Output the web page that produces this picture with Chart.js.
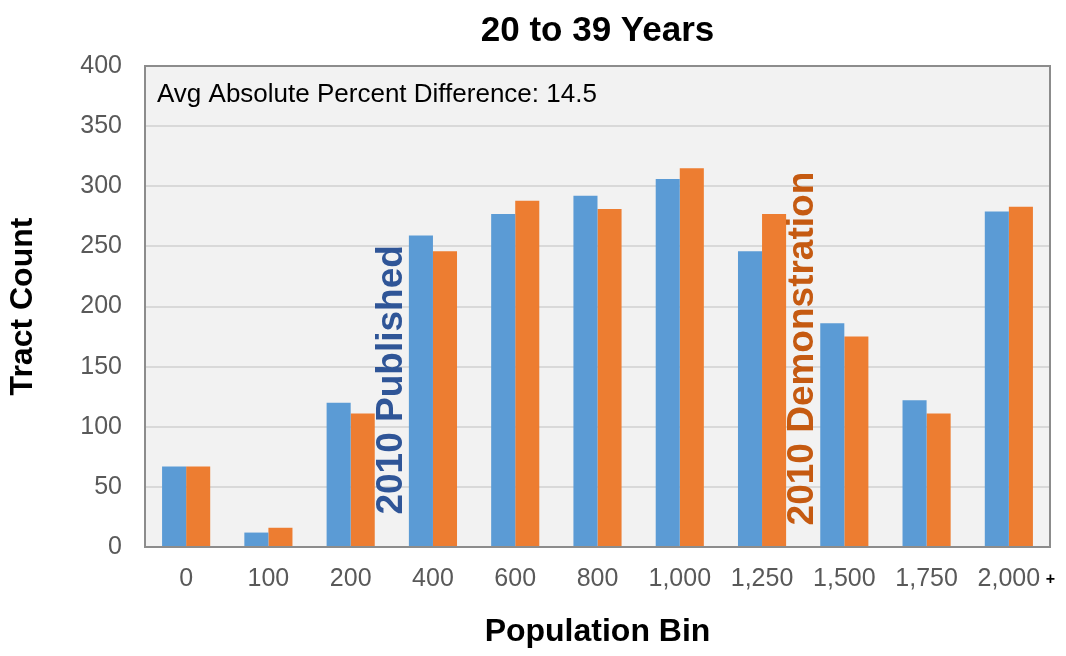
<!DOCTYPE html>
<html lang="en">
<head>
    <meta charset="UTF-8">
    <title>20 to 39 Years</title>
    <script src="https://cdn.jsdelivr.net/npm/chart.js"></script>
</head>
<style>
    body { margin: 0; background: #fff; }
    #wrap { width: 1066px; height: 656px; }
</style>
<body>
    <div id="wrap"><canvas id="popChart"></canvas></div>

    <script>
        // data
        var bins = ['0', '100', '200', '400', '600', '800', '1,000', '1,250', '1,500', '1,750', '2,000'];
        var published = [67, 12, 120, 259, 277, 292, 306, 246, 186, 122, 279];
        var demonstration = [67, 16, 111, 246, 288, 281, 315, 277, 175, 111, 283];
        var yTicks = [0, 50, 100, 150, 200, 250, 300, 350, 400];

        var FONT = "'Liberation Sans', Arial, sans-serif";

        // plot background, frame, title and the text notes
        var decor = {
            id: 'decor',
            beforeDraw: function(chart) {
                var a = chart.chartArea, ctx = chart.ctx;
                ctx.save();
                ctx.fillStyle = '#F2F2F2';
                ctx.fillRect(a.left, a.top, a.right - a.left, a.bottom - a.top);
                ctx.restore();
            },
            afterDraw: function(chart) {
                var a = chart.chartArea, ctx = chart.ctx;
                var x = chart.scales.x, y = chart.scales.y;
                ctx.save();
                ctx.strokeStyle = '#8C8C8C';
                ctx.lineWidth = 2;
                ctx.strokeRect(a.left, a.top, a.right - a.left, a.bottom - a.top);

                // title, centred over the plot area
                ctx.fillStyle = '#000';
                ctx.textAlign = 'center';
                ctx.textBaseline = 'middle';
                ctx.font = 'bold 35px ' + FONT;
                ctx.fillText('20 to 39 Years', (a.left + a.right) / 2, 31);

                ctx.font = '26px ' + FONT;
                ctx.textAlign = 'left';
                ctx.fillText('Avg Absolute Percent Difference: 14.5', a.left + 12, a.top + 29);

                // "+" after the last bin
                var lastX = x.getPixelForValue(bins.length - 1);
                ctx.font = 'bold 16px ' + FONT;
                ctx.fillText('+', lastX + 37, 580);

                // rotated series names
                function vText(txt, cx, cy, color) {
                    ctx.save();
                    ctx.translate(cx, cy);
                    ctx.rotate(-Math.PI / 2);
                    ctx.font = 'bold 37px ' + FONT;
                    ctx.fillStyle = color;
                    ctx.textAlign = 'center';
                    ctx.textBaseline = 'middle';
                    ctx.fillText(txt, 0, 0);
                    ctx.restore();
                }
                var px1 = (x.getPixelForValue(2) + x.getPixelForValue(3)) / 2;
                var px2 = (x.getPixelForValue(7) + x.getPixelForValue(8)) / 2;
                vText('2010 Published', px1, y.getPixelForValue(139), '#2F5597');
                vText('2010 Demonstration', px2, y.getPixelForValue(165), '#C55A11');
                ctx.restore();
            }
        };

        var ctx = document.getElementById('popChart').getContext('2d');
        var popChart = new Chart(ctx, {
            type: 'bar',
            data: {
                labels: bins,
                datasets: [{
                    label: '2010 Published',
                    data: published,
                    backgroundColor: '#5B9BD5',
                    borderWidth: 0
                }, {
                    label: '2010 Demonstration',
                    data: demonstration,
                    backgroundColor: '#ED7D31',
                    borderWidth: 0
                }]
            },
            options: {
                responsive: true,
                maintainAspectRatio: false,
                animation: false,
                layout: { padding: { left: 0, right: 16, top: 66, bottom: 0 } },
                datasets: { bar: { categoryPercentage: 0.585, barPercentage: 1.0 } },
                plugins: {
                    legend: { display: false },
                    tooltip: { enabled: false },
                    title: { display: false }
                },
                scales: {
                    x: {
                        grid: { display: false, drawTicks: false },
                        border: { display: false },
                        ticks: {
                            color: '#595959',
                            font: { family: FONT, size: 25 },
                            padding: 17,
                            maxRotation: 0,
                            autoSkip: false
                        },
                        title: {
                            display: true,
                            text: 'Population Bin',
                            color: '#000',
                            font: { family: FONT, size: 32, weight: 'bold', lineHeight: 1.2 },
                            padding: { top: 0, bottom: 5 }
                        },
                        afterFit: function(s) { s.height = 109; }
                    },
                    y: {
                        min: 0,
                        max: 400,
                        afterBuildTicks: function(s) {
                            s.ticks = yTicks.map(function(v) { return { value: v }; });
                        },
                        grid: { color: '#D9D9D9', lineWidth: 2, drawTicks: false },
                        border: { display: false },
                        ticks: {
                            color: '#595959',
                            font: { family: FONT, size: 25 },
                            padding: 23
                        },
                        title: {
                            display: true,
                            text: 'Tract Count',
                            color: '#000',
                            font: { family: FONT, size: 32, weight: 'bold', lineHeight: 1.2 },
                            padding: { top: 4, bottom: 0 }
                        },
                        afterFit: function(s) { s.width = 145; }
                    }
                }
            },
            plugins: [decor]
        });
    </script>
</body>
</html>
